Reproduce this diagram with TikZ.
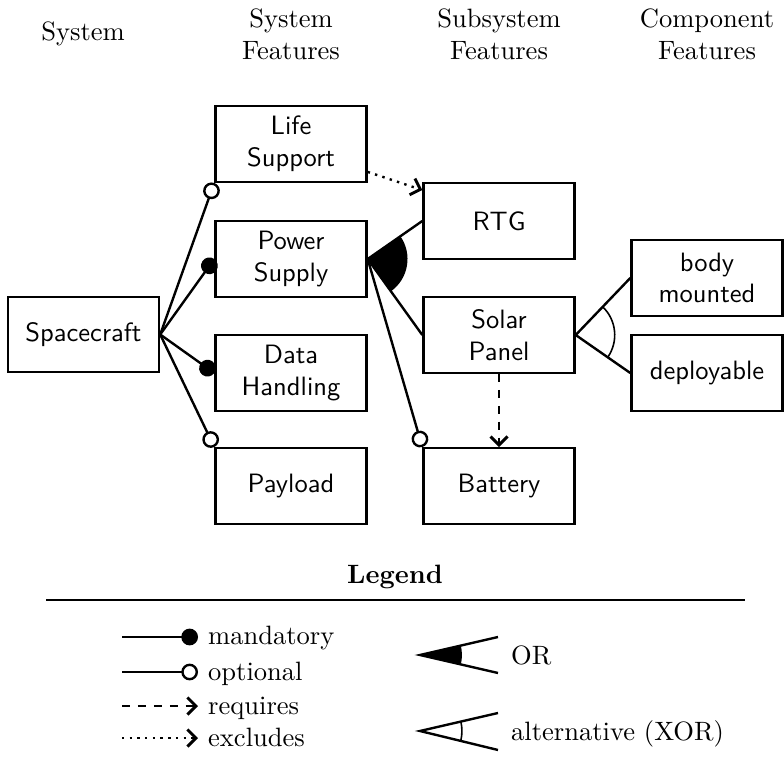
\documentclass[tikz,border=0pt]{standalone}
\usetikzlibrary{arrows.meta,calc}
\begin{document}
\begin{tikzpicture}[x=0.3768pt,y=-0.3768pt, line width=0.9pt,
  feat/.style={draw, minimum width=2cm, minimum height=1cm, inner sep=0pt, align=center, font=\sffamily},
  hdr/.style={align=center, inner sep=0pt},
  mand/.style={-{Circle[length=6.3pt]}},
  opt/.style={-{Circle[open,length=6.3pt]}},
  barb/.style={-{Straight Barb[length=3.2pt,width=6.4pt,line width=1.1pt]}},
  req/.style={dashed,barb},
  excl/.style={dotted,barb},
  legtext/.style={anchor=base west, inner sep=0pt}
]
\useasboundingbox (0,0) rectangle (784,766);

% headers
\node[hdr] (h1) at (83,34) {System};
\node[hdr] (h2) at (291,34) {System\\Features};
\node[hdr] (h3) at (499,34) {Subsystem\\Features};
\node[hdr] (h4) at (707,34) {Component\\Features};

% features
\node[feat] (sc) at (83.5,334.5) {Spacecraft};
\node[feat] (life) at (291,144) {Life\\Support};
\node[feat] (power) at (291,259) {Power\\Supply};
\node[feat] (data) at (291,373) {Data\\Handling};
\node[feat] (payload) at (291,486) {Payload};
\node[feat] (rtg) at (499,221) {RTG};
\node[feat] (solar) at (499,335) {Solar\\Panel};
\node[feat] (battery) at (499,486) {Battery};
\node[feat] (body) at (707,278) {body\\mounted};
\node[feat] (deploy) at (707,373) {deployable};

% system level
\draw[opt] (sc.east) -- (life.south west);
\draw[mand] (sc.east) -- (power.west);
\draw[mand] (sc.east) -- (data.west);
\draw[opt] (sc.east) -- (payload.north west);

% power supply OR group
\fill let \p1=($(rtg.west)-(power.east)$), \p2=($(solar.west)-(power.east)$),
  \n1={atan2(\y1,\x1)}, \n2={atan2(\y2,\x2)} in
  (power.east) -- ++(\n1:15pt) arc[start angle=\n1, end angle=\n2, radius=15pt] -- cycle;
\draw (power.east) -- (rtg.west);
\draw (power.east) -- (solar.west);
\draw[opt] (power.east) -- (battery.north west);

% solar panel XOR group
\draw (solar.east) -- (body.west);
\draw (solar.east) -- (deploy.west);
\draw[line width=0.6pt] let \p1=($(body.west)-(solar.east)$), \p2=($(deploy.west)-(solar.east)$),
  \n1={atan2(\y1,\x1)}, \n2={atan2(\y2,\x2)} in
  (solar.east) ++(\n1:14.7pt) arc[start angle=\n1, end angle=\n2, radius=14.7pt];

% cross-tree constraints
\draw[excl] (life.-20) -- (rtg.158);
\draw[req] (solar.south) -- (battery.north);

% legend
\node[font=\bfseries, inner sep=0pt] (leg) at (395,577) {Legend};
\coordinate (lg1) at (46,600);
\coordinate (lg2) at (745,600);
\draw[line width=1pt] (lg1) -- (lg2);

\coordinate (ma) at (122,637); \coordinate (mb) at (198,637);
\coordinate (oa) at (122,672); \coordinate (ob) at (198,672);
\coordinate (ra) at (122,706); \coordinate (rb) at (198,706);
\coordinate (ea) at (122,738); \coordinate (eb) at (198,738);
\draw[mand] (ma) -- (mb);
\draw[opt] (oa) -- (ob);
\draw[req] (ra) -- (rb);
\draw[excl] (ea) -- (eb);
\node[legtext] (tm) at (207,645) {mandatory};
\node[legtext] (to) at (207,680) {optional};
\node[legtext] (tr) at (207,714) {requires};
\node[legtext] (te) at (207,746) {excludes};

\coordinate (orT) at (420,655);
\coordinate (orA) at (498,637);
\coordinate (orB) at (498,673);
\fill (orT) -- ++(13:15.8pt) arc[start angle=13, end angle=-13, radius=15.8pt] -- cycle;
\draw (orA) -- (orT) -- (orB);
\node[legtext] (tor) at (510,664) {OR};

\coordinate (xT) at (420,731);
\coordinate (xA) at (498,713);
\coordinate (xB) at (498,750);
\draw (xA) -- (xT) -- (xB);
\draw[line width=0.6pt] (xT) ++(13:15.8pt) arc[start angle=13, end angle=-13, radius=15.8pt];
\node[legtext] (txor) at (510,740) {alternative (XOR)};
\end{tikzpicture}
\end{document}
